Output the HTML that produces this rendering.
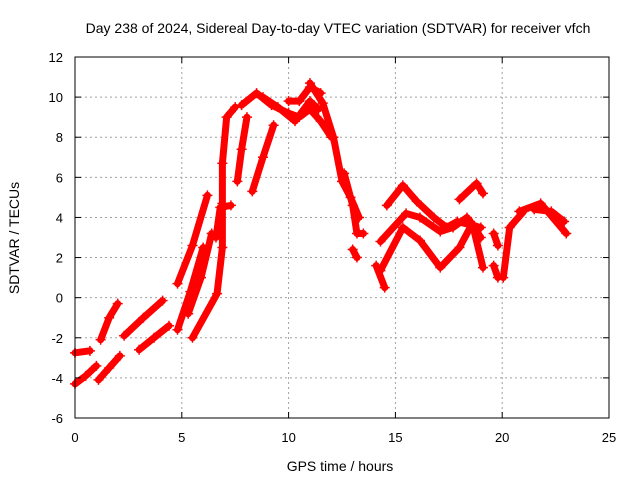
<!DOCTYPE html>
<html><head><meta charset="utf-8"><style>
body{margin:0;background:#fff}
svg{font-family:"Liberation Sans",sans-serif;display:block}
</style></head><body>
<svg id="chart" width="640" height="480">
<rect width="640" height="480" fill="#fff"/>
<text x="338" y="33" font-size="14" text-anchor="middle">Day 238 of 2024, Sidereal Day-to-day VTEC variation (SDTVAR) for receiver vfch</text>
<text x="340" y="471" font-size="14" text-anchor="middle">GPS time / hours</text>
<text transform="translate(19,238) rotate(-90)" font-size="14" text-anchor="middle">SDTVAR / TECUs</text>
<g id="grid"></g><g id="marks"></g><g id="axes"></g>
</svg>
<script>
const xTicks=[0,5,10,15,20,25];
const yTicks=[-6,-4,-2,0,2,4,6,8,10,12];
const trackA=[[0,-4.3],[0.5,-3.9],[1,-3.4]];
const trackA2=[[0,-2.75],[0.7,-2.65]];
const trackB=[[1.2,-2.1],[1.6,-1.0],[2.0,-0.3]];
const trackC=[[1.1,-4.1],[1.6,-3.5],[2.1,-2.9]];
const trackD=[[2.3,-1.9],[3.2,-1.0],[4.1,-0.15]];
const trackE=[[3.0,-2.6],[3.7,-2.0],[4.4,-1.4]];
const trackF=[[4.8,0.7],[5.5,2.6],[6.2,5.1]];
const trackG=[[4.8,-1.6],[5.4,0.3],[6.0,2.5]];
const trackG2=[[5.3,-0.8],[5.9,1.0],[6.4,3.2]];
const trackH=[[5.5,-2.0],[6.65,0.2],[6.9,2.5],[6.9,4.7],[6.9,6.7],[7.1,9.0],[7.5,9.5]];
const trackH2=[[6.6,3.0],[6.8,4.5],[7.3,4.6]];
const trackI=[[7.6,5.8],[7.8,7.4],[8.05,9.0]];
const trackJ=[[8.3,5.3],[8.8,7.0],[9.3,8.6]];
const trackK=[[7.8,9.6],[8.5,10.2],[9.2,9.6],[10,9.2],[10.5,9.0],[11,9.4],[11.5,8.8],[12,8.0]];
const trackL=[[10,9.8],[10.5,9.8],[11,10.5],[11.5,10.2]];
const trackL2=[[8.8,10.0],[9.5,9.5],[10.3,8.8],[11,9.8],[11.4,9.4]];
const trackM=[[11,10.7],[11.6,9.7],[12.1,8.0],[12.5,5.8],[12.9,5.0],[13.3,4.0]];
const trackM2=[[12.6,6.2],[13.0,4.6],[13.2,3.2],[13.5,3.2]];
const trackN=[[13.0,2.4],[13.2,2.0]];
const trackO=[[14.1,1.6],[14.5,0.5]];
const waveU=[[14.6,4.6],[15.35,5.6],[16,4.8],[16.8,4.0],[17.4,3.5],[17.9,3.8],[19,3.5]];
const waveM=[[14.3,2.8],[15.5,4.2],[16.15,4.0],[17.1,3.3],[17.7,3.5],[18.35,4.0],[19,3.0]];
const waveL=[[14.3,1.35],[15.35,3.5],[16.15,2.85],[17.1,1.5],[18,2.5],[18.6,3.7],[19.1,1.5]];
const hump=[[18,4.9],[18.8,5.7],[19.1,5.2]];
const trackP=[[20.05,1.0],[20.35,3.5],[21,4.3]];
const trackQ=[[20.8,4.3],[21.8,4.7],[23,3.2]];
const trackQ2=[[21.5,4.4],[22.3,4.3],[22.9,3.8]];
const trackR=[[19.6,3.2],[19.8,2.6]];
const trackS=[[19.6,1.6],[19.8,1.0]];
const series=[trackA,trackA2,trackB,trackC,trackD,trackE,trackF,trackG,trackG2,trackH,trackH2,trackI,trackJ,trackK,trackL,trackL2,trackM,trackM2,trackN,trackO,waveU,waveM,waveL,hump,trackP,trackQ,trackQ2,trackR,trackS];
const X0=75,X1=609,Y0=418,Y1=57;
const xs=t=>X0+(t-0)/25*(X1-X0);
const ys=v=>Y0-(v+6)/18*(Y0-Y1);
const NS="http://www.w3.org/2000/svg";
const grid=document.getElementById('grid'),axes=document.getElementById('axes'),marks=document.getElementById('marks');
function mk(tag,attrs,parent){const e=document.createElementNS(NS,tag);for(const k in attrs)e.setAttribute(k,attrs[k]);parent.appendChild(e);return e;}
xTicks.forEach(t=>{
 const x=xs(t);
 if(t>0&&t<25){const g=mk('line',{x1:x,x2:x,y1:Y1,y2:Y0,stroke:'#a0a0a0','stroke-dasharray':'2,3'},grid);
 
 }
 mk('line',{x1:x,x2:x,y1:Y0,y2:Y0-6,stroke:'#000'},axes);
 mk('line',{x1:x,x2:x,y1:Y1,y2:Y1+6,stroke:'#000'},axes);
 const l=mk('text',{x:x,y:Y0+24,'font-size':13,'text-anchor':'middle'},axes);l.textContent=t;
 
 
});
yTicks.forEach(v=>{
 const y=ys(v);
 if(v>-6&&v<12){const g=mk('line',{x1:X0,x2:X1,y1:y,y2:y,stroke:'#a0a0a0','stroke-dasharray':'2,3'},grid);
 
 }
 mk('line',{x1:X0,x2:X0+6,y1:y,y2:y,stroke:'#000'},axes);
 mk('line',{x1:X1,x2:X1-6,y1:y,y2:y,stroke:'#000'},axes);
 const l=mk('text',{x:X0-12,y:y+5,'font-size':13,'text-anchor':'end'},axes);l.textContent=v;
 
 
});
const frame=mk('rect',{x:X0,y:Y1,width:X1-X0,height:Y0-Y1,fill:'none',stroke:'#000'},axes);


series.forEach((s,i)=>{
 const pl=mk('polyline',{points:s.map(p=>xs(p[0])+','+ys(p[1])).join(' '),fill:'none',stroke:'#ff0000','stroke-width':7,'stroke-linejoin':'round','stroke-linecap':'round'},marks);
 
 
 s.forEach(p=>{
  const x=xs(p[0]),y=ys(p[1]);
  const m=mk('path',{d:`M${x-5},${y}H${x+5}M${x},${y-5}V${y+5}`,stroke:'#ff0000','stroke-width':1.5},marks);
  
  
 });
});
</script>
</body></html>
